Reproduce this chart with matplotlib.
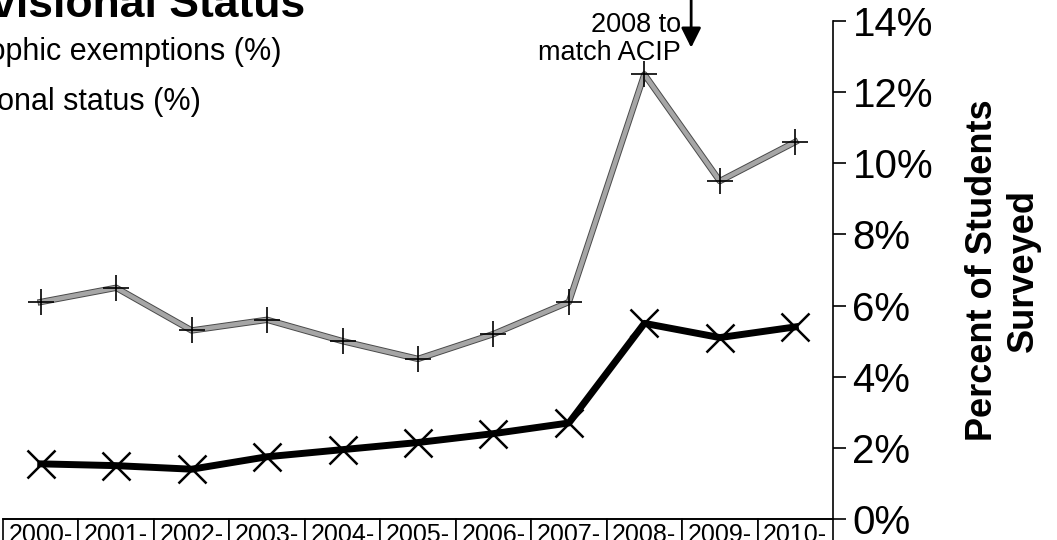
import numpy as np
import matplotlib
matplotlib.use("Agg")
import matplotlib.pyplot as plt
import matplotlib.patheffects as pe

plt.rcParams['font.family'] = ['Liberation Sans', 'DejaVu Sans']

years = ['2000-', '2001-', '2002-', '2003-', '2004-', '2005-',
         '2006-', '2007-', '2008-', '2009-', '2010-']
philosophic = [1.55, 1.5, 1.4, 1.75, 1.95, 2.15, 2.4, 2.7, 5.5, 5.1, 5.4]
provisional = [6.1, 6.5, 5.3, 5.6, 5.0, 4.5, 5.2, 6.1, 12.5, 9.5, 10.6]
yticks = [0, 2, 4, 6, 8, 10, 12, 14]

W, H = 1057, 540
fig = plt.figure(figsize=(W / 100, H / 100), dpi=100)
ax = fig.add_axes([3 / W, 21 / H, 830 / W, 498 / H])

x = np.arange(len(years))
l1, = ax.plot(x, philosophic, color='black', lw=5, marker='x', ms=20, mew=1.8,
              label='Philosophic exemptions (%)')
# gray speckled line: light core with dark edge, markers drawn on top
l2, = ax.plot(x, provisional, color='#a6a6a6', lw=3.2, label='Provisional status (%)',
              path_effects=[pe.Stroke(linewidth=4.6, foreground='#4a4a4a'), pe.Normal()])
ax.plot(x, provisional, ls='none', marker='+', ms=19, mec='black', mew=1.2)

ax.set_xlim(-0.5, 10.5)
ax.set_ylim(0, 14)
ax.set_xticks([])
ax.set_yticks(yticks)
ax.set_yticklabels(['%d%%' % v for v in yticks])
ax.yaxis.tick_right()
ax.yaxis.set_label_position('right')
ax.tick_params(axis='y', direction='out', length=9, width=1.2, pad=5, labelsize=29)
for s in ['left', 'top']:
    ax.spines[s].set_visible(False)
for s in ['right', 'bottom']:
    ax.spines[s].set_linewidth(1.2)
ax.set_ylabel('Percent of Students\nSurveyed', fontsize=26, fontweight='bold',
              rotation=90, labelpad=23)

# data table style category boxes
tbl = ax.table(cellText=[years], cellLoc='center', bbox=[0, -32 / 498, 1, 32 / 498])
tbl.auto_set_font_size(False)
tbl.set_fontsize(18)
for cell in tbl.get_celld().values():
    cell.set_linewidth(1.2)
    cell.set_edgecolor('black')

# title and legend (cut off at the left in the original)
fig.text(305 / W, 1 - 17 / H, 'Philosophic Exemptions and Provisional Status',
         ha='right', va='baseline', fontsize=32, fontweight='bold')
fig.legend([l1, l2], [l1.get_label(), l2.get_label()], loc='upper left',
           bbox_to_anchor=(-207 / W, 1 - 9 / H), frameon=False, fontsize=22,
           labelspacing=0.68)

# annotation
ax.annotate('', xy=(8.62, 13.25), xytext=(8.62, 15.5),
            arrowprops=dict(arrowstyle='-|>,head_length=0.6,head_width=0.3',
                            color='black', lw=2, mutation_scale=20,
                            shrinkA=0, shrinkB=0),
            annotation_clip=False)
fig.text(681 / W, 1 - 12 / H, '2008 to\nmatch ACIP', ha='right', va='top',
         fontsize=19.5, linespacing=1.08)

plt.savefig('out.png', dpi=100)
